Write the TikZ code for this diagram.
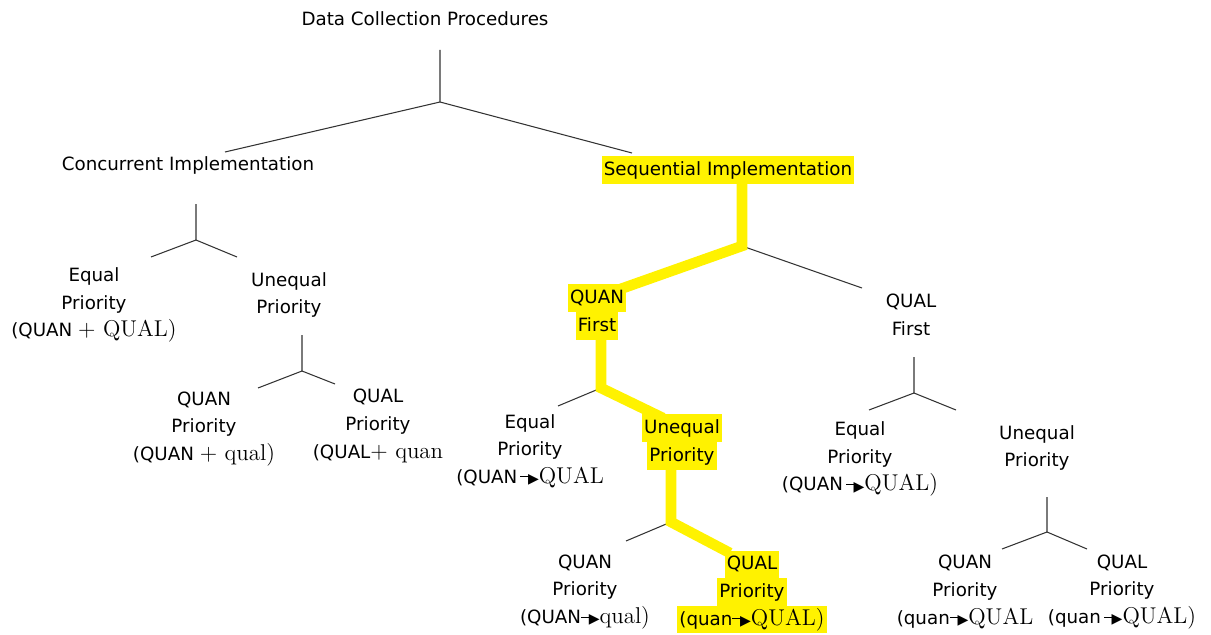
\documentclass[tikz,border=0pt]{standalone}
\usepackage{fontspec}
\setsansfont{DejaVu Sans}

\newcommand{\sr}[1]{{\rmfamily\fontsize{13}{15.7}\selectfont #1}}
\newcommand{\tip}{{\rule[0.32em]{0.6em}{0.6pt}\kern-0.18em\raisebox{-0.02em}{\fontsize{8}{8}\selectfont ▶}}}
\newcommand{\hlbox}[1]{{\setlength{\fboxsep}{0pt}\colorbox{yellow}{\strut\kern1.2pt#1\kern1.2pt}}}

\tikzset{
	lbl/.style={font=\sffamily\fontsize{10.4}{15.7}\selectfont, align=center, inner sep=0pt},
	branch/.style={line width=0.6pt, black!80},
	trail/.style={line width=6pt, yellow}
}

\begin{document}
\begin{tikzpicture}[x=0.02cm, y=-0.02cm]
			\useasboundingbox (0,0) rectangle (1211,635);

			%fork points
			\coordinate (rT) at (440,50);   \coordinate (rJ) at (440,102);
			\coordinate (rL) at (225,152);  \coordinate (rR) at (632,153);
			\coordinate (cT) at (196,204);  \coordinate (cJ) at (196,240);
			\coordinate (cL) at (151,257);  \coordinate (cR) at (237,257);
			\coordinate (uT) at (302,335);  \coordinate (uJ) at (302,371);
			\coordinate (uL) at (258,388);  \coordinate (uR) at (335,384);
			\coordinate (sT) at (742,183);  \coordinate (sJ) at (742,246);
			\coordinate (sL) at (612,292);  \coordinate (sR) at (862,288);
			\coordinate (qT) at (601,340);  \coordinate (qJ) at (601,388);
			\coordinate (qL) at (558,406);  \coordinate (qR) at (663,418);
			\coordinate (vT) at (671,469);  \coordinate (vJ) at (671,522);
			\coordinate (vL) at (626,541);  \coordinate (vR) at (730,553);
			\coordinate (fT) at (914,357);  \coordinate (fJ) at (914,393);
			\coordinate (fL) at (869,410);  \coordinate (fR) at (956,410);
			\coordinate (gT) at (1047,497); \coordinate (gJ) at (1047,532);
			\coordinate (gL) at (1002,549); \coordinate (gR) at (1087,549);

			%highlighted path
			\draw[branch] (sJ) -- (sR);
			\draw[trail] (sT) -- (sJ) -- (sL);
			\draw[branch] (qJ) -- (qL);
			\draw[trail] (qT) -- (qJ) -- (qR);
			\draw[branch] (vJ) -- (vL);
			\draw[trail] (vT) -- (vJ) -- (vR);

			%labels
			\node[lbl] (title) at (425,19) {Data Collection Procedures};
			\node[lbl] (conc) at (188,165) {Concurrent Implementation};
			\node[lbl] (seq) at (728,170) {\hlbox{Sequential Implementation}};

			\node[lbl] (cEq) at (94,305) {Equal\\Priority\\(QUAN \sr{+ QUAL)}};
			\node[lbl] (cUn) at (289,295) {Unequal\\Priority};
			\node[lbl] (cQn) at (204,429) {QUAN\\Priority\\(QUAN \sr{+ qual)}};
			\node[lbl] (cQl) at (378,426) {QUAL\\Priority\\(QUAL\sr{+ quan}};

			\node[lbl] (qnF) at (597,312) {\hlbox{QUAN}\\\hlbox{First}};
			\node[lbl] (qlF) at (911,315) {QUAL\\First};

			\node[lbl] (sEq) at (530,451) {Equal\\Priority\\(QUAN\,\tip\sr{QUAL}};
			\node[lbl] (sUn) at (682,442) {\hlbox{Unequal}\\\hlbox{Priority}};
			\node[lbl] (sQn) at (585,592) {QUAN\\Priority\\(QUAN\tip\sr{qual)}};
			\node[lbl] (sQl) at (752,592) {\hlbox{QUAL}\\\hlbox{Priority}\\\hlbox{(quan\tip\sr{QUAL)}}};

			\node[lbl] (lEq) at (860,459) {Equal\\Priority\\(QUAN\,\tip\sr{QUAL)}};
			\node[lbl] (lUn) at (1037,448) {Unequal\\Priority};
			\node[lbl] (lQn) at (965,592) {QUAN\\Priority\\(quan\tip\sr{QUAL}};
			\node[lbl] (lQl) at (1122,592) {QUAL\\Priority\\(quan\,\tip\sr{QUAL)}};

			%plain forks
			\draw[branch] (rT) -- (rJ) -- (rL);
			\draw[branch] (rJ) -- (rR);
			\draw[branch] (cT) -- (cJ) -- (cL);
			\draw[branch] (cJ) -- (cR);
			\draw[branch] (uT) -- (uJ) -- (uL);
			\draw[branch] (uJ) -- (uR);
			\draw[branch] (fT) -- (fJ) -- (fL);
			\draw[branch] (fJ) -- (fR);
			\draw[branch] (gT) -- (gJ) -- (gL);
			\draw[branch] (gJ) -- (gR);
		\end{tikzpicture}
\end{document}
